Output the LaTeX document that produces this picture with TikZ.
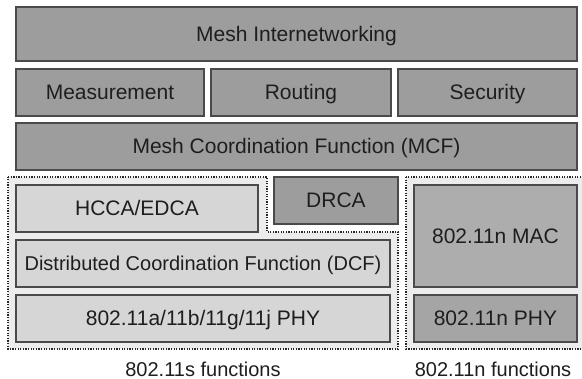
\documentclass[tikz,border=0pt]{standalone}
\usepackage{fontspec}
\setmainfont{Liberation Sans}
\definecolor{darkbox}{HTML}{9D9D9D}
\definecolor{macbox}{HTML}{ADADAD}
\definecolor{nphybox}{HTML}{A5A5A5}
\definecolor{lightbox}{HTML}{D6D6D6}
\definecolor{regionfill}{HTML}{ECECEC}
\definecolor{edge}{HTML}{4A4A4A}
\definecolor{txt}{HTML}{1E1E1E}
\tikzset{
  blk/.style={draw=edge, line width=1.2pt},
  dark/.style={blk, fill=darkbox},
  light/.style={blk, fill=lightbox},
  lbl/.style={text=txt, font=\fontsize{21}{25}\selectfont, inner sep=0pt, text height=15pt, text depth=0pt},
  lblsmall/.style={lbl, font=\fontsize{20}{24}\selectfont, text height=14.3pt},
  region/.style={draw=black!85, fill=regionfill, line width=1.3pt, dash pattern=on 1.3pt off 1.3pt}
}
\begin{document}
\begin{tikzpicture}[x=1pt,y=-1pt]
\useasboundingbox[fill=white] (0,0) rectangle (582,379);
% regions
\path[region] (8,177) -- (267,177) -- (267,232) -- (398,232) -- (398,349) -- (8,349) -- cycle;
\path[region] (406,177) rectangle (588,349);
% top stack
\draw[dark] (16,7) rectangle (577,61);
\node[lbl] (mi) at (296.5,34) {Mesh Internetworking};
\draw[dark] (16,69) rectangle (204,116);
\node[lbl] (meas) at (110,92.5) {Measurement};
\draw[dark] (211,69) rectangle (391,116);
\node[lbl] (rout) at (301,92.5) {Routing};
\draw[dark] (398,69) rectangle (577,116);
\node[lbl] (sec) at (487.5,92.5) {Security};
\draw[dark] (16,123) rectangle (577,170);
\node[lbl] (mcf) at (296.5,146.5) {Mesh Coordination Function (MCF)};
% 802.11s
\draw[light] (16,185) rectangle (258,232);
\node[lbl] (hcca) at (137,208.5) {HCCA/EDCA};
\draw[dark] (274,177) rectangle (398,224);
\node[lbl] (drca) at (336,200.5) {DRCA};
\draw[light] (16,240) rectangle (390,287);
\node[lblsmall] (dcf) at (203,263.5) {Distributed Coordination Function (DCF)};
\draw[light] (16,295) rectangle (390,342);
\node[lbl] (phy) at (203,318.5) {802.11a/11b/11g/11j PHY};
% 802.11n
\draw[blk, fill=macbox] (414,185) rectangle (577,287);
\node[lbl] (mac) at (495.5,236) {802.11n MAC};
\draw[blk, fill=nphybox] (414,295) rectangle (577,342);
\node[lbl] (nphy) at (495.5,318.5) {802.11n PHY};
% captions
\node[lblsmall] (cs) at (203,369) {802.11s functions};
\node[lblsmall] (cn) at (493,369) {802.11n functions};
\end{tikzpicture}
\end{document}
